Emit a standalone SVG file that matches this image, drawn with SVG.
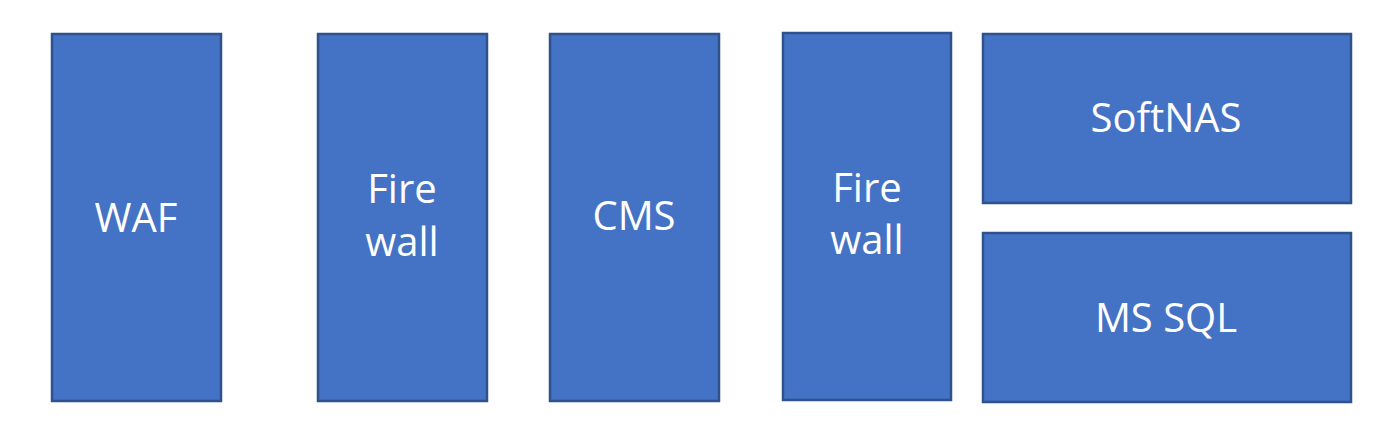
<svg xmlns="http://www.w3.org/2000/svg" width="1400" height="432" viewBox="0 0 1400 432">
<style>
.box{fill:#4472C4;stroke:#2F528F;stroke-width:2.5}
.lbl{font-family:"Open Sans","Liberation Sans",sans-serif;font-size:40px;fill:#ffffff;text-anchor:middle}
</style>
<rect width="1400" height="432" fill="#ffffff"/>
<g id="waf"><rect class="box" x="52" y="34" width="169" height="367"/><text class="lbl" x="136" y="232">WAF</text></g>
<g id="firewall1"><rect class="box" x="318" y="34" width="169" height="367"/><text class="lbl" x="402" y="203">Fire</text><text class="lbl" x="402" y="256">wall</text></g>
<g id="cms"><rect class="box" x="550" y="34" width="169" height="367"/><text class="lbl" x="634" y="230">CMS</text></g>
<g id="firewall2"><rect class="box" x="783" y="33" width="168" height="367"/><text class="lbl" x="867" y="202">Fire</text><text class="lbl" x="867" y="254">wall</text></g>
<g id="softnas"><rect class="box" x="983" y="34" width="368" height="169"/><text class="lbl" x="1166" y="132">SoftNAS</text></g>
<g id="mssql"><rect class="box" x="983" y="233" width="368" height="169"/><text class="lbl" x="1166" y="332">MS SQL</text></g>
<g id="connectors"></g>
</svg>
